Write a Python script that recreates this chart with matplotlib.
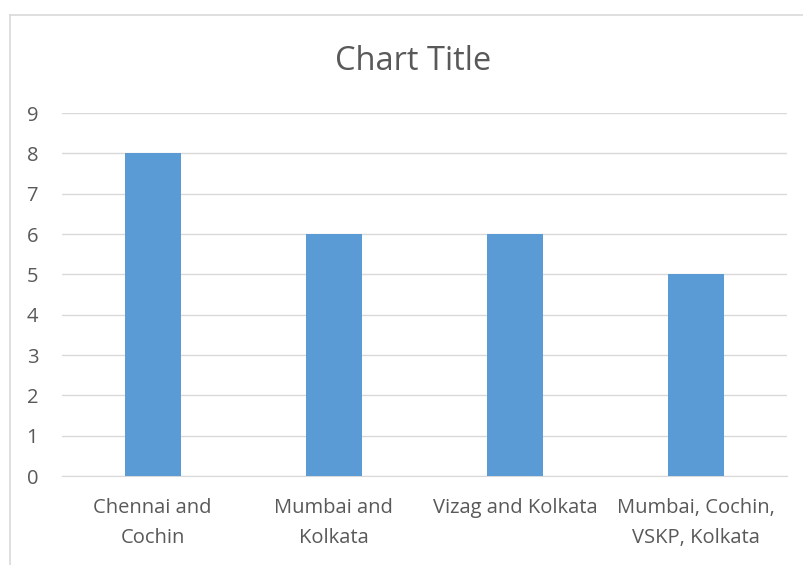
import matplotlib
matplotlib.use("Agg")
import matplotlib.pyplot as plt
from matplotlib.lines import Line2D

categories = ["Chennai and\nCochin", "Mumbai and\nKolkata", "Vizag and Kolkata", "Mumbai, Cochin,\nVSKP, Kolkata"]
values = [8, 6, 6, 5]
yticks = list(range(0, 10))

plt.rcParams['font.family'] = ['Open Sans', 'DejaVu Sans']

W, H = 804, 565
fig = plt.figure(figsize=(W/100, H/100), dpi=100)
fig.patch.set_facecolor('white')
# chart-area border (left and top edges visible)
bx, by = 10.5/W, 1 - 14.5/H
fig.add_artist(Line2D([bx, bx], [0, by], transform=fig.transFigure, color='#D9D9D9', linewidth=1.2))
fig.add_artist(Line2D([bx, 1], [by, by], transform=fig.transFigure, color='#D9D9D9', linewidth=1.2))

left, right = 62/W, 787/W
bottom, top = 1 - 476/H, 1 - 113/H
ax = fig.add_axes([left, bottom, right - left, top - bottom])

x = range(len(categories))
ax.bar(x, values, width=0.31, color='#5B9BD5', zorder=3)
ax.set_xlim(-0.5, len(categories) - 0.5)
ax.set_ylim(0, 9)
ax.set_yticks(yticks)
ax.set_xticks(list(x))
ax.set_xticklabels(categories, fontsize=14.5, color='#595959', linespacing=1.65)
ax.set_yticklabels([str(t) for t in yticks], fontsize=14.5, color='#595959')
ax.grid(axis='y', color='#D9D9D9', linewidth=1, zorder=0)
for s in ['left', 'right', 'top']:
    ax.spines[s].set_visible(False)
ax.spines['bottom'].set_color('#D9D9D9')
ax.tick_params(axis='both', length=0)
ax.tick_params(axis='x', pad=16)
ax.tick_params(axis='y', pad=25.5)
for lab in ax.get_yticklabels():
    lab.set_horizontalalignment('left')

fig.text(413/W, 1 - 61/H, "Chart Title", ha='center', va='center', fontsize=23.5, color='#595959')

fig.savefig("out.png", dpi=100)
